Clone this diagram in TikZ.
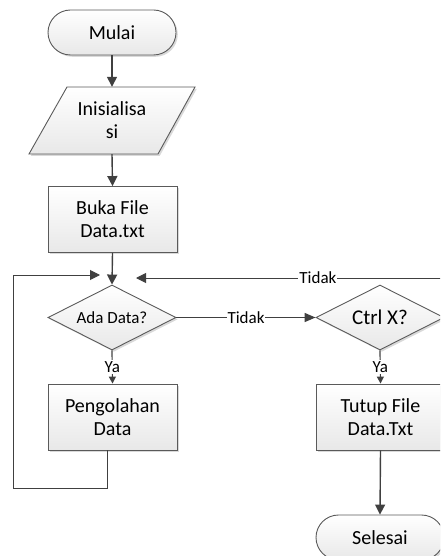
\documentclass[tikz,border=0pt]{standalone}
\usepackage{fontspec}
\setmainfont{Carlito}
\usetikzlibrary{shapes.geometric,arrows.meta,shadows}
\definecolor{edge}{HTML}{404040}
\definecolor{rim}{HTML}{5A5A5A}
\tikzset{
  shapebase/.style={draw=rim, line width=0.9pt, top color=white, bottom color=black!9,
    drop shadow={shadow xshift=1.8pt, shadow yshift=-1.8pt, opacity=0.3},
    font=\fontsize{20}{23}\selectfont, align=center, inner sep=0pt},
  terminal/.style={shapebase, rectangle, rounded corners=22.5pt, minimum width=128pt, minimum height=45pt},
  procbox/.style={shapebase, rectangle, minimum width=129pt, minimum height=66pt},
  decision/.style={shapebase, diamond, aspect=2, minimum width=128pt, minimum height=65pt},
  flow/.style={draw=edge, line width=1.4pt, -{Triangle[length=10pt,width=10pt]}},
  flowsm/.style={draw=edge, line width=1.2pt, -{Triangle[length=7pt,width=7pt]}},
  lbl/.style={fill=white, text=black, font=\fontsize{17}{19}\selectfont, inner sep=1pt},
}
\begin{document}
\begin{tikzpicture}[x=1pt, y=-1pt]
  \useasboundingbox (0,0) rectangle (440,556);
  \clip (0,0) rectangle (440,556);

  % left column
  \node[terminal] (mulai) at (112,32.5) {Mulai};
  \path[shapebase] (67,87) -- (195,87) -- (158,154) -- (29,154) -- cycle;
  \node[font=\fontsize{20}{23}\selectfont, align=center, inner sep=0pt,
        minimum width=90pt, minimum height=67pt] (init) at (112,120.5) {Inisialisa\\si};
  \node[procbox] (buka) at (112.5,219.5) {Buka File\\Data.txt};
  \node[decision] (ada) at (112,317.5) {\makebox[0pt]{\fontsize{17}{19}\selectfont Ada Data?}};
  \node[procbox] (olah) at (112.5,417) {Pengolahan\\Data};

  % right column
  \node[decision] (ctrl) at (380,317.5) {\makebox[0pt]{\fontsize{21}{24}\selectfont Ctrl X?}};
  \node[procbox] (tutup) at (380.5,417) {Tutup File\\Data.Txt};
  \node[terminal] (selesai) at (380,537.5) {Selesai};

  % loose ends of the loops
  \coordinate (loopin) at (100,275);
  \coordinate (backin) at (136,278);
  \coordinate (olahout) at (107,450);
  \coordinate (lowleft) at (13,488);
  \coordinate (upleft) at (13,275);
  \coordinate (rightdown) at (462,317.5);
  \coordinate (rightup) at (462,278);

  % connectors
  \draw[flow] (mulai.south) -- (init.north);
  \draw[flow] (init.south) -- (buka.north);
  \draw[flow] (buka.south) -- (ada.north);
  \draw[flowsm] (ada.south) -- node[lbl]{Ya} (olah.north);
  \draw[flow, -{Triangle[length=11pt,width=9pt]}] (ada.east) -- node[lbl]{Tidak} (ctrl.west);
  \draw[flowsm] (ctrl.south) -- node[lbl]{Ya} (tutup.north);
  \draw[flow] (tutup.south) -- (selesai.north);
  \draw[flow, line width=1pt] (olahout) -- (107,488) -- (lowleft) -- (upleft) -- (loopin);
  \draw[flow, line width=1pt] (ctrl.east) -- (rightdown) -- (rightup)
      -- node[lbl, pos=0.442]{Tidak} (backin);
\end{tikzpicture}
\end{document}
